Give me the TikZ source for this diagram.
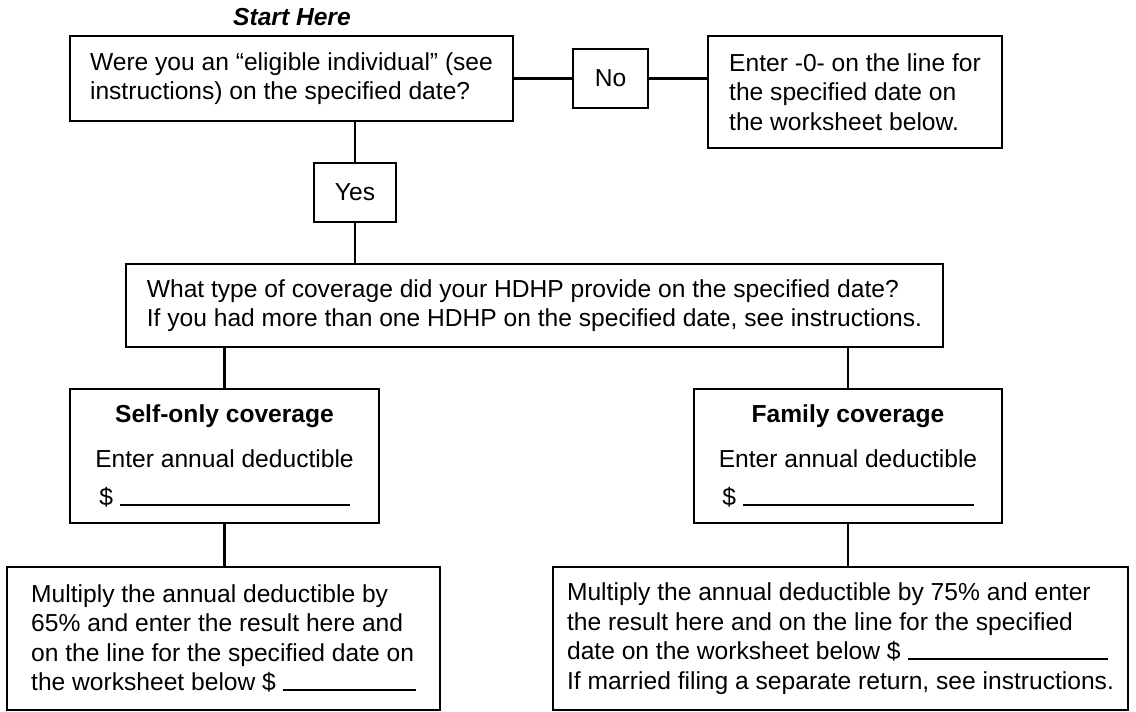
\documentclass[tikz,border=0pt]{standalone}
\usepackage{fontspec}
\setmainfont{Liberation Sans}
\usetikzlibrary{positioning}

\begin{document}
\begin{tikzpicture}[
        x=0.02cm, y=-0.02cm,
        box/.style={rectangle, draw, line width=1.3pt, inner sep=0pt, font=\fontsize{14}{16.8}\selectfont},
        link/.style={line width=1.3pt},
    ]
    \useasboundingbox (0,0) rectangle (1136,711);

    % question and the "No" branch
    \node[font=\fontsize{14}{16.8}\selectfont\bfseries\itshape] (start) at (292,17) {Start Here};
    \node[box, align=left, minimum width=8.86cm, minimum height=1.70cm] (elig) at (291.5,78.5) {Were you an “eligible individual” (see\\instructions) on the specified date?};
    \node[box, minimum width=1.50cm, minimum height=1.18cm] (no) at (610.5,78.5) {No};
    \node[box, align=left, minimum width=5.88cm, minimum height=2.24cm] (zero) at (855,92) {Enter -0- on the line for\\the specified date on\\the worksheet below.};

    % "Yes" branch
    \node[box, minimum width=1.64cm, minimum height=1.18cm] (yes) at (355,192.5) {Yes};
    \node[box, align=left, minimum width=16.34cm, minimum height=1.66cm] (hdhp) at (534.5,305.5) {What type of coverage did your HDHP provide on the specified date?\\If you had more than one HDHP on the specified date, see instructions.};

    % coverage types
    \node[box, align=center, minimum width=6.18cm, minimum height=2.68cm] (self) at (224.5,456) {\textbf{Self-only coverage}\\[9pt]Enter annual deductible\\[5pt]\$ \rule{4.6cm}{0.8pt}};
    \node[box, align=center, minimum width=6.16cm, minimum height=2.68cm] (fam) at (848,456) {\textbf{Family coverage}\\[9pt]Enter annual deductible\\[5pt]\$ \rule{4.62cm}{0.8pt}};

    % results
    \node[box, align=left, minimum width=8.66cm, minimum height=2.86cm] (res1) at (223.5,638.5) {Multiply the annual deductible by\\65\% and enter the result here and\\on the line for the specified date on\\the worksheet below \$ \rule{2.66cm}{0.8pt}};
    \node[box, align=left, minimum width=11.5cm, minimum height=2.86cm] (res2) at (840.5,638.5) {Multiply the annual deductible by 75\% and enter\\the result here and on the line for the specified\\date on the worksheet below \$ \rule{4cm}{0.8pt}\\If married filing a separate return, see instructions.};

    \draw[link] (elig.east) -- (no.west);
    \draw[link] (no.east) -- (no.east -| zero.west);
    \draw[link] (yes.north) -- (yes.north |- elig.south);
    \draw[link] (yes.south) -- (yes.south |- hdhp.north);
    \draw[link] (self.north) -- (self.north |- hdhp.south);
    \draw[link] (fam.north) -- (fam.north |- hdhp.south);
    \draw[link] (self.south) -- (self.south |- res1.north);
    \draw[link] (fam.south) -- (fam.south |- res2.north);
\end{tikzpicture}
\end{document}
